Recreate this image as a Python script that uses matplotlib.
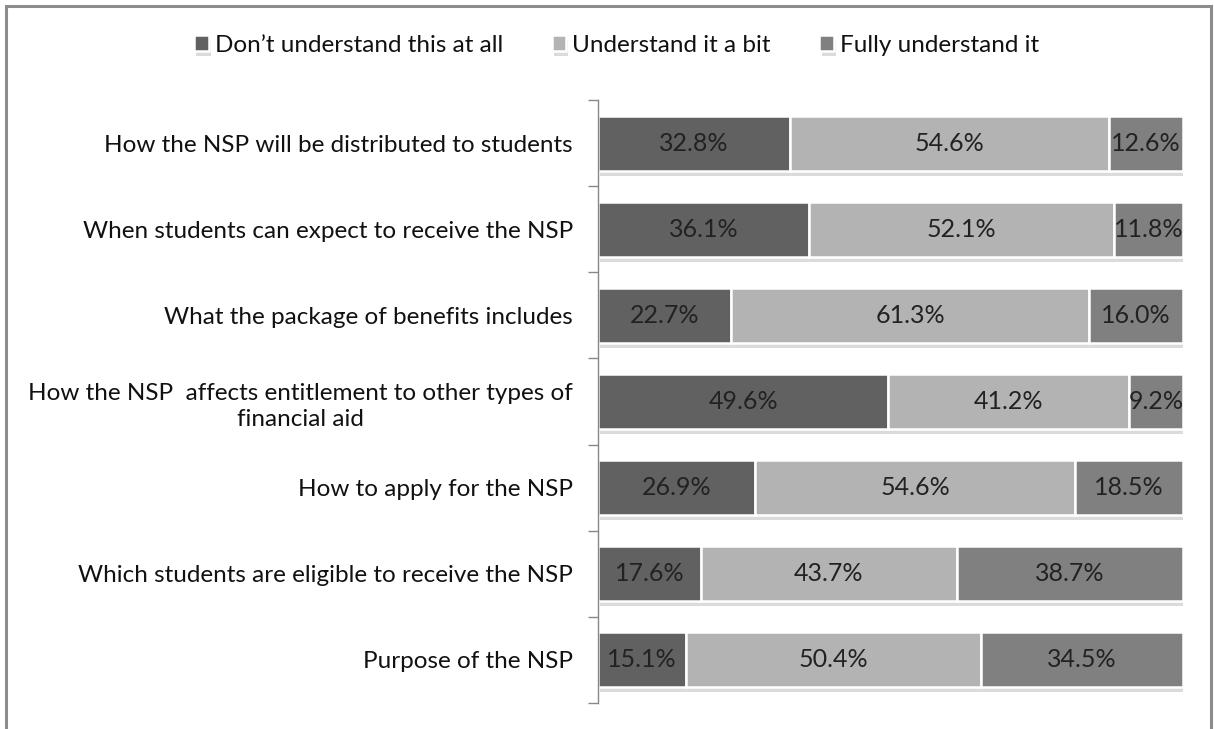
import numpy as np
import matplotlib
matplotlib.use("Agg")
import matplotlib.pyplot as plt
import matplotlib.patheffects as pe
from matplotlib.patches import Rectangle

plt.rcParams['font.family'] = ['Lato', 'DejaVu Sans']

# data (top to bottom as drawn)
questions = [
    "How the NSP will be distributed to students",
    "When students can expect to receive the NSP",
    "What the package of benefits includes",
    "How the NSP  affects entitlement to other types of\nfinancial aid",
    "How to apply for the NSP",
    "Which students are eligible to receive the NSP",
    "Purpose of the NSP",
]
dont_understand = [32.8, 36.1, 22.7, 49.6, 26.9, 17.6, 15.1]
understand_bit = [54.6, 52.1, 61.3, 41.2, 54.6, 43.7, 50.4]
fully_understand = [12.6, 11.8, 16.0, 9.2, 18.5, 38.7, 34.5]

series_names = ["Don\u2019t understand this at all", "Understand it a bit", "Fully understand it"]
colors = ["#616161", "#b3b3b3", "#808080"]

fig = plt.figure(figsize=(12.14, 7.29), dpi=100)
ax = fig.add_axes([0.4926, 0.0357, 0.4819, 0.827])

y = np.arange(len(questions))
left = np.zeros(len(questions))
shadow = [pe.SimplePatchShadow(offset=(1.5, -3.5), shadow_rgbFace="#8a8a8a", alpha=0.3), pe.Normal()]
for vals, name, col in zip([dont_understand, understand_bit, fully_understand], series_names, colors):
    vals = np.array(vals)
    bars = ax.barh(y, vals, left=left, height=0.64, color=col, edgecolor="white",
                   linewidth=1.8, label=name)
    for b in bars:
        b.set_path_effects(shadow)
    for yi, l, v in zip(y, left, vals):
        ax.text(l + v / 2, yi, f"{v:.1f}%", ha="center", va="center", fontsize=18, color="#222222")
    left = left + vals

ax.set_xlim(0, 100)
ax.set_ylim(len(questions) - 0.5, -0.5)
ax.set_yticks(y)
ax.set_yticklabels(questions, fontsize=17.5, color="#111111", multialignment="center",
                   linespacing=1.35)
ax.set_yticks(np.arange(-0.5, len(questions)), minor=True)
ax.tick_params(axis="y", which="major", length=0, pad=18)
ax.tick_params(axis="y", which="minor", length=7, color="#888888", width=1)
ax.set_xticks([])
for s in ["top", "right", "bottom"]:
    ax.spines[s].set_visible(False)
ax.spines["left"].set_color("#888888")
ax.spines["left"].set_linewidth(1)

leg = fig.legend(loc="center", bbox_to_anchor=(0.508, 0.938), ncol=3, frameon=False,
                 fontsize=17.5, handlelength=0.6, handleheight=0.6, handletextpad=0.25,
                 columnspacing=2.0)
for t in leg.get_texts():
    t.set_color("#111111")

# outer chart border (bottom edge runs off the picture)
fig.patches.append(Rectangle((6 / 1214, -0.05), (1211 - 6) / 1214, 1.05 - 6 / 729,
                             transform=fig.transFigure, fill=False,
                             edgecolor="#8c8c8c", linewidth=2.2))

fig.savefig("out.png", dpi=100)
